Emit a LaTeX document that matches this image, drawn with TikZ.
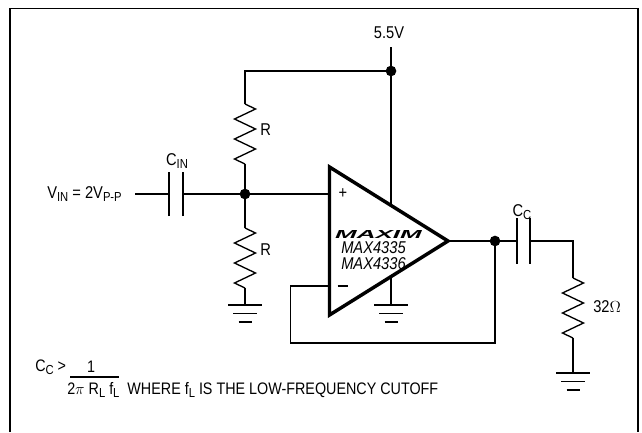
\documentclass[tikz,border=0pt]{standalone}
\usepackage{fontspec}
\setmainfont{Liberation Sans}[FakeStretch=0.86]
\usepackage{graphicx}

% lowered small text for the C_IN, V_IN ... indices
\newcommand{\lo}[1]{\raisebox{-0.3ex}{\fontsize{9.8pt}{10pt}\selectfont #1}}

\tikzset{
  wire/.style={line width=1pt},
  plate/.style={line width=1.6pt},
  jdot/.style={circle,fill,inner sep=0pt,minimum size=8pt},
  lbl/.style={inner sep=0pt,font=\fontsize{12.8pt}{14pt}\selectfont},
  note/.style={inner sep=0pt,font=\fontsize{12.5pt}{14pt}\selectfont},
  resistor/.pic={\draw[wire] (0,0) -- ++(10.5,5) -- ++(-21,10) -- ++(21,10)
    -- ++(-21,10) -- ++(21,10) -- ++(-21,10) -- ++(10.5,5);},
  gnd/.pic={\draw[wire] (-17,0) -- (17,0) (-12,8.5) -- (12,8.5) (-6.5,17) -- (6.5,17);}
}

\begin{document}
\begin{tikzpicture}[x=0.75pt,y=-0.75pt]
  \useasboundingbox (0,0) rectangle (642,432);

  % frame
  \draw[line width=1.3pt] (10,432) -- (10,8.5) -- (638,8.5) -- (638,432);

  % points
  \coordinate (vcc) at (391,47);
  \coordinate (vdot) at (391,71);
  \coordinate (rtop) at (245,71);
  \coordinate (r1a) at (245,104);
  \coordinate (r1b) at (245,164);
  \coordinate (mid) at (245,194);
  \coordinate (r2a) at (245,228);
  \coordinate (r2b) at (245,288);
  \coordinate (g1) at (245,305);
  \coordinate (vin) at (135,194);
  \coordinate (cin1) at (169,194);
  \coordinate (cin2) at (183,194);
  \coordinate (amptop) at (329.5,167);
  \coordinate (ampbot) at (329.5,315);
  \coordinate (ampout) at (448,241);
  \coordinate (inp) at (329.5,194);
  \coordinate (inn) at (329.5,286);
  \coordinate (vpin) at (391,205.4);
  \coordinate (gpin) at (391,276.6);
  \coordinate (g2) at (391,305);
  \coordinate (fb1) at (290.6,286);
  \coordinate (fb2) at (290.6,343);
  \coordinate (fb3) at (495,343);
  \coordinate (odot) at (495,241);
  \coordinate (cc1) at (517,241);
  \coordinate (cc2) at (530,241);
  \coordinate (rl) at (573,241);
  \coordinate (r3a) at (573,278);
  \coordinate (r3b) at (573,338);
  \coordinate (g3) at (573,373);

  % op amp
  \draw[line width=2.6pt,line join=miter] (amptop) -- (ampout) -- (ampbot) -- cycle;

  % wires
  \draw[wire] (vcc) -- (vdot) -- (vpin);
  \draw[wire] (vdot) -- (rtop) -- (r1a);
  \draw[wire] (r1b) -- (mid) -- (r2a);
  \draw[wire] (r2b) -- (g1);
  \draw[wire] (vin) -- (cin1);
  \draw[wire] (cin2) -- (mid) -- (inp);
  \draw[wire] (gpin) -- (g2);
  \draw[wire] (inn) -- (fb1) -- (fb2) -- (fb3) -- (odot);
  \draw[wire] (ampout) -- (odot) -- (cc1);
  \draw[wire] (cc2) -- (rl) -- (r3a);
  \draw[wire] (r3b) -- (g3);

  % parts
  \pic at (r1a) {resistor};
  \pic at (r2a) {resistor};
  \pic at (r3a) {resistor};
  \pic at (g1) {gnd};
  \pic at (g2) {gnd};
  \pic at (g3) {gnd};
  \draw[plate] ([yshift=-16.5]cin1) -- ([yshift=16.5]cin1);
  \draw[plate] ([yshift=-16.5]cin2) -- ([yshift=16.5]cin2);
  \draw[plate] ([yshift=-17]cc1) -- ([yshift=17]cc1);
  \draw[plate] ([yshift=-17]cc2) -- ([yshift=17]cc2);

  % junctions
  \node[jdot] (jvcc) at (vdot) {};
  \node[jdot] (jmid) at (mid) {};
  \node[jdot] (jout) at (odot) {};

  % labels
  \node[lbl] (supply) at (389,33) {5.5V};
  \node[lbl,anchor=west] (rup) at (260,130) {R};
  \node[lbl,anchor=west] (rdown) at (260,250) {R};
  \node[lbl] (cinlbl) at (177,161) {C\lo{IN}};
  \node[lbl,anchor=east] (vinlbl) at (122,194) {V\lo{IN} = 2V\lo{P-P}};
  \node[lbl] (plus) at (343,194) {+};
  \node[lbl] (minus) at (343,286) {\rule{8pt}{0.9pt}};
  \node[inner sep=0pt] (logo) at (378.5,234.5) {\resizebox{65pt}{6pt}{\bfseries\itshape MAXIM}};
  \node[lbl,anchor=west] (part1) at (341,248) {\itshape MAX4335};
  \node[lbl,anchor=west] (part2) at (341,264) {\itshape MAX4336};
  \node[lbl] (cclbl) at (522,212) {C\lo{C}};
  \node[lbl,anchor=west] (rload) at (593,307) {32$\Omega$};

  % formula
  \node[note,anchor=west] (ccgt) at (35,367) {C\lo{C} >};
  \node[note] (num) at (91,367) {1};
  \coordinate (bar1) at (70,377);
  \coordinate (bar2) at (119,377);
  \draw[wire] (bar1) -- (bar2);
  \node[note,anchor=west] (den) at (67,390) {2$\pi$ R\lo{L} f\lo{L}\ \ WHERE f\lo{L} IS THE LOW-FREQUENCY CUTOFF};

\end{tikzpicture}
\end{document}
